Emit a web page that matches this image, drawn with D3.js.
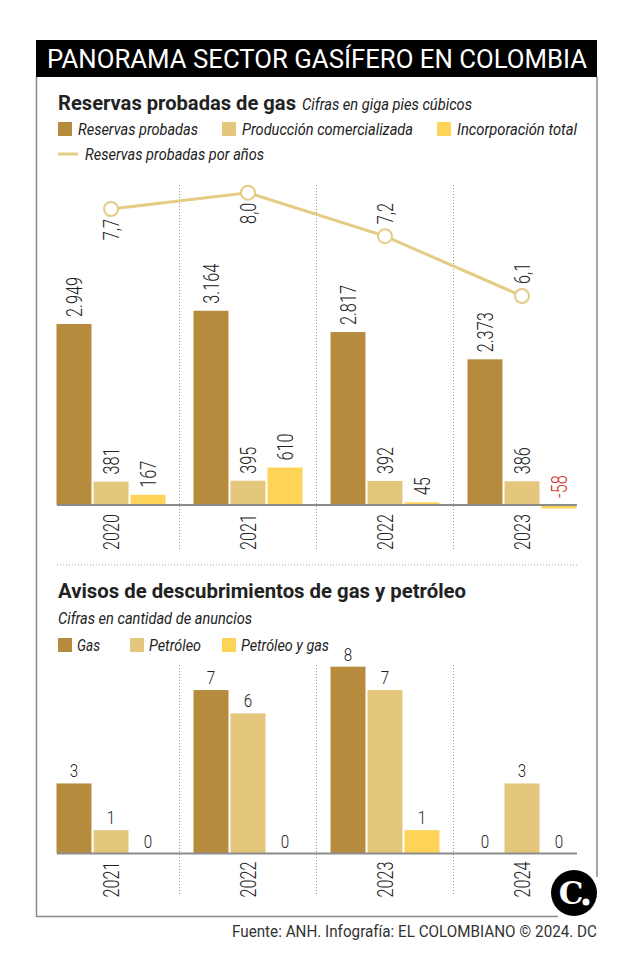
<!DOCTYPE html>
<html><head><meta charset="utf-8">
<script src="https://cdnjs.cloudflare.com/ajax/libs/d3/7.8.5/d3.min.js"></script>
<style>
html,body{margin:0;padding:0;background:#fff;}
svg{display:block;font-family:Roboto,"Noto Sans",sans-serif;}
</style></head>
<body>
<svg id="c" width="638" height="977"></svg>
<script>
// ---------- DATA ----------
const years1 = ["2020", "2021", "2022", "2023"];
const series1 = ["Reservas probadas", "Producción comercializada", "Incorporación total"];
const reservasProbadas = [2949, 3164, 2817, 2373];
const produccionComercializada = [381, 395, 392, 386];
const incorporacionTotal = [167, 610, 45, -58];
const lineSeriesName = "Reservas probadas por años";
const reservasPorAnos = [7.7, 8.0, 7.2, 6.1];
const lineLabelSide = ["below", "below", "above", "above"];

const years2 = ["2021", "2022", "2023", "2024"];
const series2 = ["Gas", "Petróleo", "Petróleo y gas"];
const gas = [3, 7, 8, 0];
const petroleo = [1, 6, 7, 3];
const petroleoYGas = [0, 0, 1, 0];

const mainTitle = "PANORAMA SECTOR GASÍFERO EN COLOMBIA";
const title1 = "Reservas probadas de gas";
const subtitle1 = "Cifras en giga pies cúbicos";
const title2 = "Avisos de descubrimientos de gas y petróleo";
const subtitle2 = "Cifras en cantidad de anuncios";
const footer = "Fuente: ANH. Infografía: EL COLOMBIANO © 2024. DC";

// ---------- STYLE ----------
const colors = ["#b68b3e", "#e4c67c", "#fdd457"];
const lineColor = "#e4cc84";
const textColor = "#222";
const locale = d3.formatLocale({decimal: ",", thousands: ".", grouping: [3], currency: ["", ""], minus: "-"});
const fmtInt = locale.format(",d");
const fmtDec = locale.format(",.1f");

const svg = d3.select("#c");

// Title bar
svg.append("rect").attr("x", 36).attr("y", 40).attr("width", 561).attr("height", 37).attr("fill", "#000");
svg.append("text").attr("x", 47).attr("y", 68).attr("fill", "#fff")
  .attr("font-size", 26).attr("font-weight", 400)
  .attr("textLength", 540).attr("lengthAdjust", "spacingAndGlyphs").text(mainTitle);

// Frame
svg.append("path").attr("d", "M36.5,77V916.5H558").attr("fill", "none").attr("stroke", "#8a8a8a").attr("stroke-width", 1.5);
svg.append("path").attr("d", "M597,77V877").attr("fill", "none").attr("stroke", "#8a8a8a").attr("stroke-width", 1.5);

function fitText(x, y, str, size, weight, style, len, fill) {
  return svg.append("text").attr("x", x).attr("y", y).attr("font-size", size)
    .attr("font-weight", weight).attr("font-style", style).attr("fill", fill || textColor)
    .attr("textLength", len).attr("lengthAdjust", "spacingAndGlyphs").text(str);
}

// ---------- CHART 1 headings ----------
fitText(58, 110, title1, 21, 700, "normal", 238);
fitText(302, 110, subtitle1, 16, 400, "italic", 170);
const legend1Pos = [[58, 120], [222, 171], [437, 120]];
series1.forEach((s, i) => {
  svg.append("rect").attr("x", legend1Pos[i][0]).attr("y", 122).attr("width", 14).attr("height", 14).attr("fill", colors[i]);
  fitText(legend1Pos[i][0] + 20, 135, s, 16, 400, "italic", legend1Pos[i][1]);
});
svg.append("line").attr("x1", 58).attr("x2", 78).attr("y1", 154).attr("y2", 154).attr("stroke", lineColor).attr("stroke-width", 3);
fitText(85, 160, lineSeriesName, 16, 400, "italic", 179);

// ---------- CHART 1 ----------
const x0 = d3.scaleBand().domain(years1).range([42.5, 590.5]);
const x1 = d3.scaleBand().domain(d3.range(3)).range([14, 123]).paddingInner(0.055);
const y1 = d3.scaleLinear().domain([0, 3300]).range([505, 302.4]);
const yL = d3.scaleLinear().domain([6.1, 8.0]).range([296, 192.7]);

const data1 = years1.map((yr, i) => ({yr, vals: [reservasProbadas[i], produccionComercializada[i], incorporacionTotal[i]]}));

// separators
years1.slice(1).forEach(yr => {
  svg.append("line").attr("x1", x0(yr)).attr("x2", x0(yr)).attr("y1", 185).attr("y2", 550)
    .attr("stroke", "#9a9a9a").attr("stroke-width", 1).attr("stroke-dasharray", "1,2");
});

const g1 = svg.append("g");
data1.forEach(d => {
  d.vals.forEach((v, j) => {
    const bx = x0(d.yr) + x1(j);
    g1.append("rect").attr("x", bx).attr("width", x1.bandwidth())
      .attr("y", Math.min(y1(v), y1(0))).attr("height", Math.abs(y1(v) - y1(0)))
      .attr("fill", colors[j]);
    const cx = bx + x1.bandwidth() / 2;
    const ty = Math.min(y1(v), y1(0)) - 7;
    g1.append("text").attr("transform", `translate(${cx},${ty}) rotate(-90) scale(0.74,1)`)
      .attr("dy", "0.36em").attr("font-size", 22).attr("font-weight", 300)
      .attr("fill", v < 0 ? "#d2322d" : textColor).text(fmtInt(v));
  });
});

// axis line
svg.append("line").attr("x1", 57).attr("x2", 577).attr("y1", y1(0)).attr("y2", y1(0)).attr("stroke", "#8c8c8c").attr("stroke-width", 2);

// year labels
years1.forEach(yr => {
  const cx = x0(yr) + x0.bandwidth() / 2;
  svg.append("text").attr("transform", `translate(${cx},${y1(0) + 9}) rotate(-90) scale(0.74,1)`)
    .attr("dy", "0.36em").attr("text-anchor", "end").attr("font-size", 22).attr("font-weight", 300)
    .attr("fill", textColor).text(yr);
});

// line
const linePts = years1.map((yr, i) => [x0(yr) + x0.bandwidth() / 2, yL(reservasPorAnos[i])]);
svg.append("path").attr("d", d3.line()(linePts)).attr("fill", "none").attr("stroke", lineColor).attr("stroke-width", 3);
linePts.forEach((p, i) => {
  svg.append("circle").attr("cx", p[0]).attr("cy", p[1]).attr("r", 7).attr("fill", "#fff").attr("stroke", lineColor).attr("stroke-width", 2);
  const below = lineLabelSide[i] === "below";
  const ty = below ? p[1] + 10 : p[1] - 12;
  svg.append("text").attr("transform", `translate(${p[0]},${ty}) rotate(-90) scale(0.74,1)`)
    .attr("dy", "0.36em").attr("text-anchor", below ? "end" : "start")
    .attr("font-size", 22).attr("font-weight", 300).attr("fill", textColor).text(fmtDec(reservasPorAnos[i]));
});

// horizontal dotted separator
svg.append("line").attr("x1", 57).attr("x2", 577).attr("y1", 565).attr("y2", 565)
  .attr("stroke", "#a8a8a8").attr("stroke-width", 1).attr("stroke-dasharray", "1,2");

// ---------- CHART 2 headings ----------
fitText(58, 598, title2, 21, 700, "normal", 408);
fitText(58, 624, subtitle2, 16, 400, "italic", 194);
const legend2Pos = [[58, 23], [130, 52], [222, 88]];
series2.forEach((s, i) => {
  svg.append("rect").attr("x", legend2Pos[i][0]).attr("y", 638).attr("width", 14).attr("height", 14).attr("fill", colors[i]);
  fitText(legend2Pos[i][0] + 19, 651, s, 16, 400, "italic", legend2Pos[i][1]);
});

// ---------- CHART 2 ----------
const x20 = d3.scaleBand().domain(years2).range([42.5, 590.5]);
const y2 = d3.scaleLinear().domain([0, 8]).range([853.5, 666.7]);
const data2 = years2.map((yr, i) => ({yr, vals: [gas[i], petroleo[i], petroleoYGas[i]]}));

years2.slice(1).forEach(yr => {
  svg.append("line").attr("x1", x20(yr)).attr("x2", x20(yr)).attr("y1", 665).attr("y2", 896)
    .attr("stroke", "#9a9a9a").attr("stroke-width", 1).attr("stroke-dasharray", "1,2");
});

data2.forEach(d => {
  d.vals.forEach((v, j) => {
    const bx = x20(d.yr) + x1(j);
    svg.append("rect").attr("x", bx).attr("width", x1.bandwidth())
      .attr("y", y2(v)).attr("height", y2(0) - y2(v)).attr("fill", colors[j]);
    const cx = bx + x1.bandwidth() / 2;
    svg.append("text").attr("transform", `translate(${cx},${y2(v) - 6}) scale(0.8,1)`)
      .attr("text-anchor", "middle").attr("font-size", 19).attr("font-weight", 300)
      .attr("fill", textColor).text(fmtInt(v));
  });
});

svg.append("line").attr("x1", 57).attr("x2", 577).attr("y1", y2(0)).attr("y2", y2(0)).attr("stroke", "#8c8c8c").attr("stroke-width", 2);

years2.forEach(yr => {
  const cx = x20(yr) + x20.bandwidth() / 2;
  svg.append("text").attr("transform", `translate(${cx},${y2(0) + 8}) rotate(-90) scale(0.74,1)`)
    .attr("dy", "0.36em").attr("text-anchor", "end").attr("font-size", 22).attr("font-weight", 300)
    .attr("fill", textColor).text(yr);
});

// ---------- Footer & logo ----------
fitText(232, 937, footer, 16, 400, "normal", 365, "#333");
svg.append("circle").attr("cx", 574).attr("cy", 893).attr("r", 23).attr("fill", "#000");
svg.append("text").attr("x", 571).attr("y", 904).attr("text-anchor", "middle")
  .attr("font-family", "'DejaVu Serif', 'Liberation Serif', serif").attr("font-weight", 700)
  .attr("font-size", 31).attr("fill", "#fff").text("C");
svg.append("circle").attr("cx", 586).attr("cy", 902).attr("r", 3.5).attr("fill", "#fff");
</script>
</body></html>
